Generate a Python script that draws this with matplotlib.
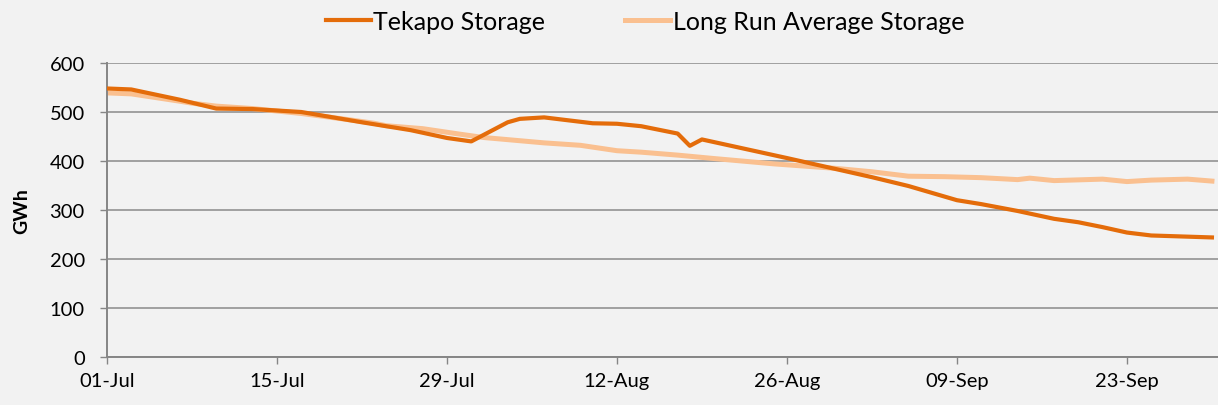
import matplotlib
matplotlib.use("Agg")
import matplotlib.pyplot as plt
import pandas as pd

plt.rcParams["font.family"] = ["Lato", "DejaVu Sans"]

# day offsets from 01-Jul and storage (GWh)
tekapo_days = [0, 2, 6, 9, 12, 16, 21, 25, 28, 30, 33, 34, 36, 40, 42, 44, 47, 48, 49,
               56, 63, 66, 70, 72, 75, 78, 80, 82, 84, 86, 91]
tekapo_gwh = [548, 546, 525, 507, 506, 500, 479, 463, 447, 440, 479, 486, 489, 477, 476,
              471, 456, 431, 444, 406, 367, 349, 320, 312, 298, 282, 275, 265, 254, 248, 244]

avg_days = [0, 2, 6, 7, 9, 12, 16, 20, 22, 23, 26, 29, 31, 36, 39, 42, 44, 47, 50, 55,
            60, 63, 66, 69, 72, 75, 76, 78, 82, 84, 86, 89, 91]
avg_gwh = [539, 537, 522, 518, 512, 507, 497, 484, 477, 472, 466, 455, 448, 437, 432,
           421, 418, 412, 405, 394, 385, 378, 369, 368, 366, 362, 365, 360, 363, 358,
           361, 363, 359]

start = pd.Timestamp("2013-07-01")
tekapo_dates = start + pd.to_timedelta(tekapo_days, unit="D")
avg_dates = start + pd.to_timedelta(avg_days, unit="D")
tick_dates = pd.date_range(start, periods=7, freq="14D")

bg = "#f2f2f2"
fig = plt.figure(figsize=(12.18, 4.06), dpi=100, facecolor=bg)
ax = fig.add_axes([107 / 1218, 1 - 358 / 406, 1 - 107 / 1218, (358 - 64) / 406])
ax.set_facecolor(bg)

ax.plot(tekapo_dates, tekapo_gwh, color="#E46C0A", lw=3.0, label="Tekapo Storage", zorder=3)
ax.plot(avg_dates, avg_gwh, color="#FAC090", lw=3.6, label="Long Run Average Storage", zorder=2)

ax.set_ylim(0, 600)
ax.set_yticks(range(0, 601, 100))
ax.set_xlim(start, start + pd.Timedelta(days=91.5))
ax.set_xticks(tick_dates)
ax.set_xticklabels([d.strftime("%d-%b") for d in tick_dates])

ax.grid(axis="y", color="#a0a0a0", lw=1.4)
ax.set_axisbelow(True)
for s in ["top", "right"]:
    ax.spines[s].set_visible(False)
for s in ["left", "bottom"]:
    ax.spines[s].set_color("#868686")
    ax.spines[s].set_linewidth(1.4)
ax.tick_params(axis="both", colors="#868686", labelcolor="black", labelsize=14.5,
               length=5, width=1)
ax.tick_params(axis="y", pad=11)
ax.tick_params(axis="x", pad=6)

ax.set_ylabel("GWh", fontsize=14, fontweight="bold", labelpad=14)

fig.legend(loc="center", bbox_to_anchor=(645 / 1218, 1 - 22 / 406), ncol=2,
           frameon=False, fontsize=18, handlelength=1.8, handletextpad=0.1,
           columnspacing=3.2)

fig.savefig("out.png", dpi=100, facecolor=bg)
